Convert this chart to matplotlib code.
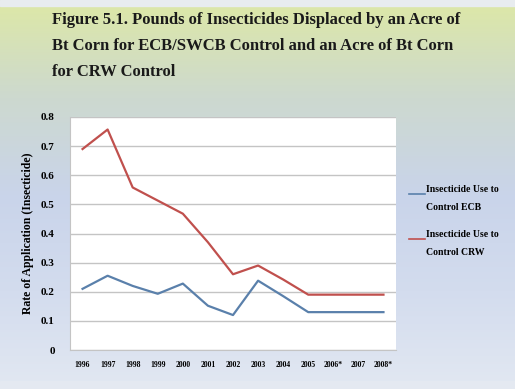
import numpy as np
import matplotlib.pyplot as plt
from matplotlib.colors import LinearSegmentedColormap

years = ['1996', '1997', '1998', '1999', '2000', '2001', '2002', '2003',
         '2004', '2005', '2006*', '2007', '2008*']
ecb = [0.21, 0.255, 0.22, 0.193, 0.228, 0.152, 0.12, 0.238, 0.185, 0.13, 0.13, 0.13, 0.13]
crw = [0.69, 0.757, 0.558, 0.513, 0.468, 0.37, 0.26, 0.29, 0.242, 0.19, 0.19, 0.19, 0.19]
ecb_label = 'Insecticide Use to\nControl ECB'
crw_label = 'Insecticide Use to\nControl CRW'

serif = 'Liberation Serif'

fig = plt.figure(figsize=(5.15, 3.89), dpi=100)

# background gradient (green-yellow top -> light blue bottom)
bg = fig.add_axes([0, 0, 1, 1])
cmap = LinearSegmentedColormap.from_list('bg', ['#dde8a6', '#cdd9cf', '#c9d4ea', '#d3dcee', '#e2e8f2'])
grad = np.linspace(0, 1, 256).reshape(-1, 1)
bg.imshow(grad, aspect='auto', cmap=cmap, extent=[0, 1, 0, 1], origin='upper')
bg.axhspan(0.985, 1, color='#e8ecef')
bg.axhspan(0, 0.02, color='#e4e9f1')
bg.axis('off')

ax = fig.add_axes([70 / 515, 1 - 350 / 389, 326 / 515, 233 / 389])
ax.set_facecolor('white')
x = np.arange(len(years))
ax.plot(x, ecb, color='#5a80ab', lw=1.6)
ax.plot(x, crw, color='#c0504d', lw=1.6)
ax.set_xlim(-0.5, len(years) - 0.5)
ax.set_ylim(0, 0.8)
ax.set_yticks(np.arange(0, 0.81, 0.1))
ax.set_yticklabels(['0', '0.1', '0.2', '0.3', '0.4', '0.5', '0.6', '0.7', '0.8'],
                   fontfamily=serif, fontweight='bold', fontsize=8)
ax.set_xticks(x)
ax.set_xticklabels(years, fontfamily=serif, fontweight='bold', fontsize=5.5)
ax.tick_params(length=0, pad=8)
ax.tick_params(axis='y', pad=11)
ax.grid(axis='y', color='#c4c4c4', lw=1)
for s in ['top', 'right']:
    ax.spines[s].set_visible(False)
ax.spines['left'].set_color('#c4c4c4')
ax.spines['bottom'].set_color('#c4c4c4')
ax.set_axisbelow(True)
ax.set_ylabel('Rate of Application (Insecticide)', fontfamily=serif,
              fontweight='bold', fontsize=8.5, labelpad=5)

# legend entries placed to the right of the plot
for i, (lab, col) in enumerate([(ecb_label, '#5a80ab'), (crw_label, '#c0504d')]):
    y0 = 1 - (185 + i * 45) / 389
    fig.add_artist(plt.Line2D([409 / 515, 425 / 515], [y0 - 0.022, y0 - 0.022],
                              color=col, lw=1.2))
    fig.text(426 / 515, y0, lab, fontfamily=serif, fontweight='bold',
             fontsize=7, va='top', ha='left', linespacing=2.3)

fig.text(52 / 515, 1 - 12 / 389,
         'Figure 5.1. Pounds of Insecticides Displaced by an Acre of\n'
         'Bt Corn for ECB/SWCB Control and an Acre of Bt Corn\n'
         'for CRW Control',
         fontfamily=serif, fontweight='bold', fontsize=12, va='top', ha='left',
         linespacing=1.85, color='#1a1a1a')

fig.savefig('out.png', dpi=100)
